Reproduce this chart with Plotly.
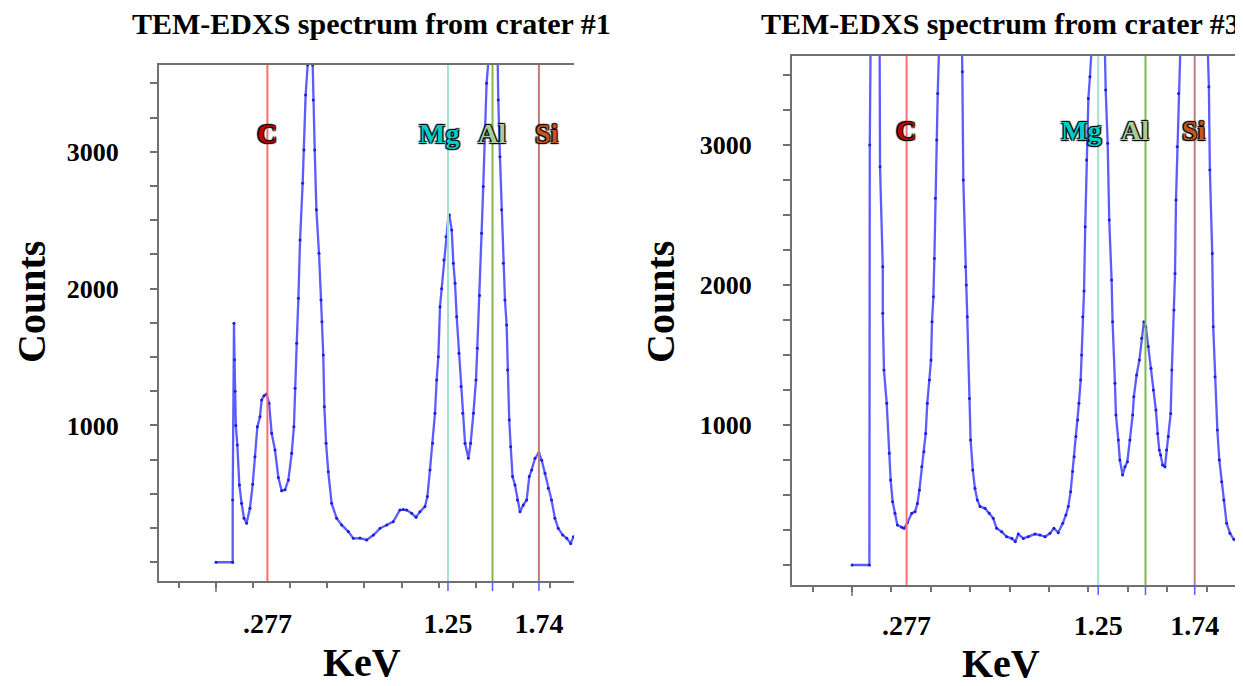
import plotly.graph_objects as go

# ---------------- data ----------------
TITLES = ["TEM-EDXS spectrum from crater #1", "TEM-EDXS spectrum from crater #3"]

ELEMENTS = ["C", "Mg", "Al", "Si"]
LINE_KEV = [0.277, 1.25, 1.49, 1.74]
TICK_KEV = [0.277, 1.25, 1.74]
TICK_TEXT = [".277", "1.25", "1.74"]
Y_TICKS = [1000, 2000, 3000]
Y_TICK_TEXT = ["1000", "2000", "3000"]

ENERGY_1 = [0.000, 0.090, 0.090, 0.097, 0.100, 0.103, 0.107, 0.115, 0.126, 0.138,
            0.151, 0.165, 0.183, 0.198, 0.210, 0.223, 0.237, 0.246, 0.259, 0.273,
            0.286, 0.300, 0.318, 0.336, 0.354, 0.372, 0.390, 0.408, 0.420, 0.426,
            0.435, 0.444, 0.453, 0.467, 0.474, 0.483, 0.494, 0.507, 0.521, 0.524,
            0.532, 0.541, 0.555, 0.566, 0.571, 0.578, 0.584, 0.593, 0.605, 0.623,
            0.650, 0.677, 0.713, 0.740, 0.776, 0.812, 0.848, 0.884, 0.920, 0.955,
            0.991, 1.009, 1.027, 1.054, 1.078, 1.099, 1.126, 1.139, 1.153, 1.167,
            1.180, 1.189, 1.198, 1.207, 1.216, 1.228, 1.239, 1.252, 1.257, 1.270,
            1.279, 1.288, 1.297, 1.309, 1.320, 1.329, 1.342, 1.360, 1.372, 1.387,
            1.401, 1.408, 1.420, 1.431, 1.440, 1.449, 1.458, 1.467, 1.492, 1.518,
            1.521, 1.530, 1.539, 1.548, 1.557, 1.566, 1.571, 1.580, 1.588, 1.598,
            1.611, 1.624, 1.638, 1.656, 1.674, 1.688, 1.701, 1.719, 1.740, 1.755,
            1.773, 1.790, 1.808, 1.826, 1.844, 1.868, 1.890, 1.911, 1.926]
COUNTS_1 = [0, 0, 455, 1747, 1480, 1250, 1000, 857, 565, 431,
            322, 285, 395, 570, 772, 991, 1064, 1186, 1218, 1230,
            1162, 943, 821, 620, 523, 530, 601, 797, 991, 1272,
            1601, 1930, 2356, 2770, 3014, 3416, 3635, 3700, 3635, 3379,
            3014, 2576, 2259, 1917, 1759, 1515, 1137, 870, 662, 431,
            322, 273, 224, 175, 177, 163, 199, 248, 273, 297,
            382, 385, 382, 358, 329, 370, 407, 480, 675, 870,
            1089, 1333, 1503, 1868, 2000, 2210, 2380, 2527, 2540, 2429,
            2186, 2039, 1795, 1528, 1284, 1089, 870, 760, 870, 1089,
            1333, 1565, 1950, 2405, 2746, 3136, 3501, 3650, 4200, 3650,
            3379, 2965, 2576, 2186, 1917, 1735, 1406, 1040, 845, 626,
            565, 455, 370, 419, 455, 626, 675, 760, 801, 745,
            650, 541, 455, 322, 248, 199, 175, 138, 187]

ENERGY_3 = [0.000, 0.088, 0.090, 0.110, 0.140, 0.142, 0.156, 0.156, 0.162, 0.176,
            0.189, 0.196, 0.206, 0.218, 0.230, 0.252, 0.264, 0.281, 0.303, 0.320,
            0.332, 0.342, 0.354, 0.365, 0.374, 0.382, 0.393, 0.401, 0.406, 0.413,
            0.418, 0.423, 0.430, 0.435, 0.442, 0.500, 0.558, 0.560, 0.565, 0.575,
            0.580, 0.585, 0.596, 0.602, 0.613, 0.624, 0.636, 0.650, 0.675, 0.697,
            0.717, 0.734, 0.760, 0.785, 0.811, 0.829, 0.844, 0.870, 0.895, 0.929,
            0.954, 0.980, 1.005, 1.025, 1.047, 1.070, 1.086, 1.098, 1.110, 1.120,
            1.128, 1.137, 1.146, 1.152, 1.161, 1.166, 1.171, 1.178, 1.184, 1.191,
            1.200, 1.208, 1.217, 1.250, 1.284, 1.288, 1.298, 1.306, 1.318, 1.323,
            1.335, 1.340, 1.352, 1.360, 1.374, 1.386, 1.398, 1.411, 1.425, 1.431,
            1.445, 1.459, 1.471, 1.482, 1.492, 1.504, 1.518, 1.530, 1.543, 1.552,
            1.560, 1.567, 1.577, 1.589, 1.597, 1.606, 1.618, 1.624, 1.635, 1.640,
            1.645, 1.651, 1.658, 1.665, 1.735, 1.806, 1.812, 1.817, 1.829, 1.834,
            1.843, 1.855, 1.865, 1.877, 1.888, 1.902, 1.919, 1.939, 1.956, 1.966]
COUNTS_3 = [0, 0, 3000, 6500, 3700, 2845, 2131, 1798, 1393, 1155,
            798, 607, 452, 369, 286, 269, 262, 302, 369, 381,
            440, 536, 702, 809, 940, 1155, 1321, 1464, 1738, 1917,
            2190, 2619, 3036, 3369, 3700, 9000, 3700, 3524, 2750, 2131,
            2000, 1774, 1190, 893, 679, 548, 464, 417, 405, 369,
            333, 262, 238, 202, 190, 167, 221, 190, 202, 221,
            214, 202, 226, 262, 231, 298, 357, 417, 524, 667,
            774, 917, 1036, 1155, 1321, 1500, 1774, 1958, 2417, 2893,
            3333, 3488, 3700, 6000, 3700, 3393, 3012, 2464, 2036, 1738,
            1298, 1071, 893, 750, 643, 702, 738, 893, 1071, 1202,
            1357, 1464, 1619, 1738, 1702, 1560, 1405, 1250, 1107, 940,
            821, 786, 714, 702, 821, 917, 1083, 1393, 1821, 2083,
            2607, 2988, 3369, 3700, 7000, 3700, 3417, 2821, 2226, 1702,
            1345, 964, 750, 595, 464, 298, 226, 183, 167, 183]

# ---------------- styling ----------------
OFF = 8                      # the page body adds an 8px margin
W, H = 1243 - OFF, 686 - OFF
FONT = "Liberation Serif"
AXIS_COLOR = "#707070"
LINE_COLORS = ["rgb(255,110,110)", "rgb(160,228,205)", "rgb(130,185,75)", "rgb(190,125,125)"]
LABEL_COLORS = ["#c00000", "#00cccc", "#a8cc98", "#c4561a"]
LABEL_SHADOW = "1px 1px 1px #000, -1px -1px 1px #000, 1px -1px 1px #000, -1px 1px 1px #000"


def px_x(v):
    return (v - OFF) / W


def px_y(v):
    return 1 - (v - OFF) / H


# panel geometry in screen pixels: (left, right, top, bottom)
PANELS = [
    dict(px=(159, 574, 65, 581), xr=(-0.307, 1.929), yr=(-137, 3635),
         title_x=371, counts_x=31, kev=(362, 662), tick_y=624,
         label_y=133, label_shift=[0, -9, -1, 8]),
    dict(px=(792, 1240, 56, 585), xr=(-0.305, 1.970), yr=(-143, 3636),
         title_x=1000, counts_x=660, kev=(1001, 663), tick_y=626,
         label_y=131, label_shift=[-1, -17, -10, -1]),
]
SPECTRA = [(ENERGY_1, COUNTS_1), (ENERGY_3, COUNTS_3)]

fig = go.Figure()
layout = dict(width=W, height=H, margin=dict(l=0, r=0, t=0, b=0),
              paper_bgcolor="white", plot_bgcolor="white", showlegend=False)
annotations = []
shapes = []

for i, (p, (ex, cy)) in enumerate(zip(PANELS, SPECTRA)):
    l, r, t, b = p["px"]
    xn = "x" if i == 0 else "x2"
    yn = "y" if i == 0 else "y2"
    xd = [px_x(l), px_x(r)]
    yd = [px_y(b), px_y(t)]
    plot_h = b - t
    fig.add_trace(go.Scatter(
        x=ex, y=cy, xaxis=xn, yaxis=yn, mode="lines+markers",
        line=dict(color="rgba(50,50,255,0.8)", width=2.3),
        marker=dict(color="rgb(30,30,215)", size=3), cliponaxis=True,
        hoverinfo="skip"))
    axkey = "xaxis" if i == 0 else "xaxis2"
    aykey = "yaxis" if i == 0 else "yaxis2"
    layout[axkey] = dict(
        domain=xd, range=list(p["xr"]), anchor=yn, showgrid=False, zeroline=False,
        showline=True, linecolor=AXIS_COLOR, linewidth=2, mirror=True,
        tickmode="array", tickvals=TICK_KEV, ticktext=TICK_TEXT, ticks="",
        tickfont=dict(family=FONT, size=28, color="black", weight="bold"),
        ticklabelstandoff=p["tick_y"] - b - 27,
        minor=dict(tick0=0, dtick=0.2, ticks="outside", ticklen=5,
                   tickcolor=AXIS_COLOR, tickwidth=1.5, showgrid=False),
    )
    layout[aykey] = dict(
        domain=yd, range=list(p["yr"]), anchor=xn, showgrid=False, zeroline=False,
        showline=True, linecolor=AXIS_COLOR, linewidth=2, mirror=False,
        tickmode="array", tickvals=Y_TICKS, ticktext=Y_TICK_TEXT, ticks="outside",
        ticklen=7, tickcolor=AXIS_COLOR, tickwidth=1.5,
        tickfont=dict(family=FONT, size=26, color="black", weight="bold"),
        ticklabelstandoff=26,
        minor=dict(tick0=0, dtick=250, ticks="outside", ticklen=7,
                   tickcolor=AXIS_COLOR, tickwidth=1.5, showgrid=False),
    )
    # element lines
    for k, (el, kev) in enumerate(zip(ELEMENTS, LINE_KEV)):
        shapes.append(dict(type="line", xref=xn, yref=yn + " domain", x0=kev, x1=kev,
                           y0=0, y1=1, line=dict(color=LINE_COLORS[k], width=2)))
        if k > 0:
            shapes.append(dict(type="line", xref=xn, yref=yn + " domain", x0=kev, x1=kev,
                               y0=0, y1=-10 / plot_h,
                               line=dict(color="rgb(90,90,255)", width=1.5)))
        annotations.append(dict(
            text=el, x=kev, xref=xn, y=px_y(p["label_y"]), yref="paper",
            xshift=p["label_shift"][k], showarrow=False, xanchor="center", yanchor="middle",
            font=dict(family=FONT, size=28, color=LABEL_COLORS[k], weight="bold",
                      shadow=LABEL_SHADOW)))
    # longer zero tick
    shapes.append(dict(type="line", xref=xn, yref=yn + " domain", x0=0, x1=0,
                       y0=0, y1=-11 / plot_h, line=dict(color=AXIS_COLOR, width=1.5)))
    # titles and axis labels
    annotations.append(dict(text=TITLES[i], x=px_x(p["title_x"]), y=px_y(23),
                            xref="paper", yref="paper", showarrow=False,
                            xanchor="center", yanchor="middle",
                            font=dict(family=FONT, size=30, color="black", weight="bold")))
    annotations.append(dict(text="Counts", x=px_x(p["counts_x"]), y=px_y(302),
                            xref="paper", yref="paper", showarrow=False, textangle=-90,
                            xanchor="center", yanchor="middle",
                            font=dict(family=FONT, size=40, color="black", weight="bold")))
    annotations.append(dict(text="KeV", x=px_x(p["kev"][0]), y=px_y(p["kev"][1]),
                            xref="paper", yref="paper", showarrow=False,
                            xanchor="center", yanchor="middle",
                            font=dict(family=FONT, size=40, color="black", weight="bold")))

layout["annotations"] = annotations
layout["shapes"] = shapes
fig.update_layout(**layout)
fig.write_html("out.html")
